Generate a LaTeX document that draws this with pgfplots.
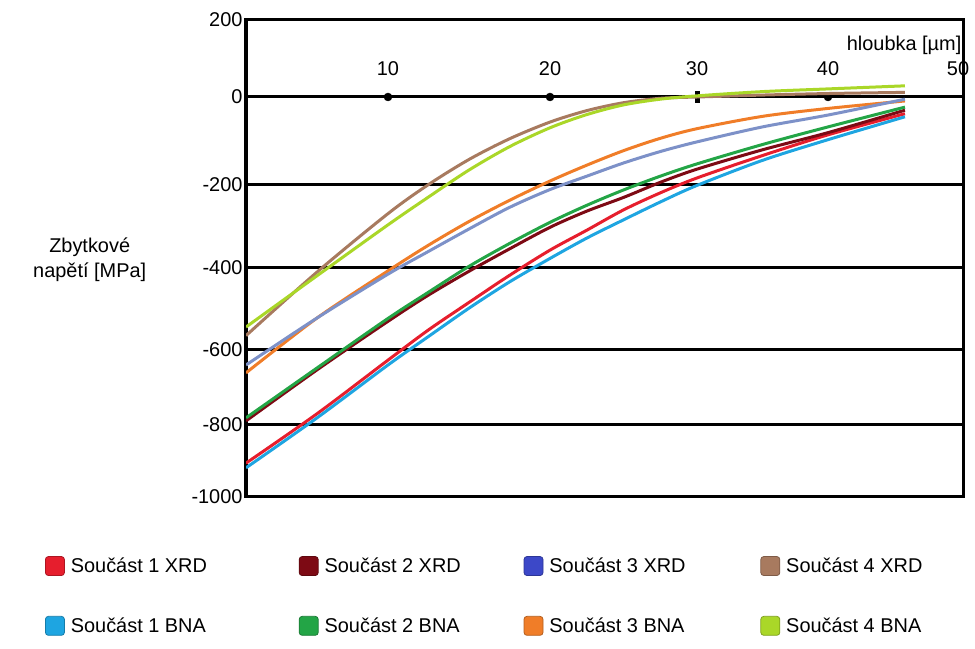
\documentclass[border=0pt]{standalone}
\usepackage{pgfplots}
\pgfplotsset{compat=1.18}
\usepackage{fontspec}
\setmainfont{Liberation Sans}
\definecolor{cAx}{RGB}{230,30,45}
\definecolor{cBx}{RGB}{125,10,20}
\definecolor{cCxL}{RGB}{60,72,200}
\definecolor{cCx}{RGB}{125,145,200}
\definecolor{cDx}{RGB}{168,122,95}
\definecolor{cAb}{RGB}{30,165,225}
\definecolor{cBb}{RGB}{35,165,70}
\definecolor{cCb}{RGB}{240,125,40}
\definecolor{cDb}{RGB}{170,215,40}
\begin{document}
\begin{tikzpicture}[font=\fontsize{20}{25}\selectfont]
\useasboundingbox (0,0) rectangle (975bp,649bp);
\begin{axis}[
  at={(246bp,152bp)}, anchor=south west,
  scale only axis, width=717bp, height=477bp,
  xmin=0, xmax=50, ymin=-1000, ymax=200,
  x coord trafo/.code={\pgfmathparse{(#1<=10) ? (#1*14.2) : ((#1<=20) ? (142+(#1-10)*16.2) : ((#1<=30) ? (304+(#1-20)*14.7) : ((#1<=40) ? (451+(#1-30)*13.1) : (582+(#1-40)*13.5))))}},
  y coord trafo/.code={\pgfmathparse{(#1>=0) ? (400+#1*0.385) : ((#1>=-200) ? (400+#1*0.44) : ((#1>=-400) ? (312+(#1+200)*0.415) : ((#1>=-600) ? (229+(#1+400)*0.41) : ((#1>=-800) ? (147+(#1+600)*0.375) : (72+(#1+800)*0.36)))))}},
  xtick=\empty,
  ytick={-1000,-800,-600,-400,-200,0,200},
  yticklabels={-1000,-800,-600,-400,-200,0,200},
  major tick length=0pt,
  ymajorgrids, grid style={black, line width=3bp},
  axis line style={black, line width=3bp},
  tick label style={font=\fontsize{20}{24}\selectfont},
  clip mode=individual,
  legend columns=4,
  legend cell align=left,
  legend image code/.code={\filldraw[rounded corners=3bp] (0bp,-9.5bp) rectangle (19bp,9.5bp);},
  legend style={at={(axis description cs:-0.2803,-0.124)}, anchor=north west,
    draw=none, fill=none, inner sep=0pt, outer sep=0pt,
    row sep=40bp, column sep=0pt,
    nodes={inner sep=1bp},
    /tikz/every odd column/.append style={column sep=5bp},
    font=\fontsize{20}{24}\selectfont},
]
% tick markers on the zero line
\addplot[only marks, mark=*, mark size=4bp, black, forget plot] coordinates {(10,0) (20,0) (40,0)};
\addplot[only marks, mark=|, mark size=6bp, black, mark options={line width=5bp}, forget plot] coordinates {(30,0)};
% curves
\addplot[cAx, line width=3bp, smooth, forget plot] coordinates {(0,-906) (5,-770) (10,-627) (12.5,-551) (15,-484) (17.5,-418) (20,-357) (22.5,-309) (25,-260) (27.5,-219) (30,-184) (35,-133) (40,-86) (45.7,-38)};
\addplot[cAb, line width=3bp, smooth, forget plot] coordinates {(0,-919) (5,-781) (10,-640) (12.5,-567) (15,-498) (17.5,-434) (20,-377) (22.5,-328) (25,-284) (27.5,-241) (30,-201) (35,-144) (40,-97) (45.7,-45)};
\addplot[cBx, line width=3bp, smooth, forget plot] coordinates {(0,-789) (5,-653) (10,-530) (12.5,-466) (15,-408) (17.5,-354) (20,-302) (22.5,-263) (25,-230) (27.5,-194) (30,-164) (35,-120) (40,-81) (45.7,-30)};
\addplot[cBb, line width=3bp, smooth, forget plot] coordinates {(0,-781) (5,-648) (10,-523) (12.5,-459) (15,-396) (17.5,-341) (20,-290) (22.5,-249) (25,-212) (27.5,-180) (30,-152) (35,-108) (40,-68) (45.7,-23)};
\addplot[cCb, line width=3bp, smooth, forget plot] coordinates {(0,-661) (5,-522) (10,-407) (12.5,-345) (15,-288) (17.5,-237) (20,-191) (22.5,-155) (25,-122) (27.5,-94) (30,-72) (35,-44) (40,-26) (45.7,-9)};
\addplot[cCx, line width=3bp, smooth, forget plot] coordinates {(0,-640) (5,-522) (10,-415) (12.5,-360) (15,-306) (17.5,-254) (20,-211) (22.5,-180) (25,-150) (27.5,-124) (30,-102) (35,-68) (40,-41) (45.7,-5)};
\addplot[cDx, line width=3bp, smooth, forget plot] coordinates {(0,-565) (5,-410) (10,-269) (12.5,-199) (15,-142) (17.5,-95) (20,-57) (22.5,-31) (25,-13) (27.5,-3) (30,0) (35,5) (40,9) (45.7,12)};
\addplot[cDb, line width=3bp, smooth, forget plot] coordinates {(0,-544) (5,-419) (10,-296) (12.5,-229) (15,-166) (17.5,-113) (20,-70) (22.5,-40) (25,-18) (27.5,-5) (30,3) (35,14) (40,21) (45.7,29)};
% legend
\addlegendimage{fill=cAx, draw=cAx!75!black, line width=0.8bp}
\addlegendentry{\makebox[227bp][l]{Součást 1 XRD}}
\addlegendimage{fill=cBx, draw=cBx!75!black, line width=0.8bp}
\addlegendentry{\makebox[198bp][l]{Součást 2 XRD}}
\addlegendimage{fill=cCxL, draw=cCxL!75!black, line width=0.8bp}
\addlegendentry{\makebox[210bp][l]{Součást 3 XRD}}
\addlegendimage{fill=cDx, draw=cDx!75!black, line width=0.8bp}
\addlegendentry{Součást 4 XRD}
\addlegendimage{fill=cAb, draw=cAb!75!black, line width=0.8bp}
\addlegendentry{Součást 1 BNA}
\addlegendimage{fill=cBb, draw=cBb!75!black, line width=0.8bp}
\addlegendentry{Součást 2 BNA}
\addlegendimage{fill=cCb, draw=cCb!75!black, line width=0.8bp}
\addlegendentry{Součást 3 BNA}
\addlegendimage{fill=cDb, draw=cDb!75!black, line width=0.8bp}
\addlegendentry{Součást 4 BNA}
% x labels above the zero line
\node[anchor=base, yshift=21bp] at (axis cs:10,0) {10};
\node[anchor=base, yshift=21bp] at (axis cs:20,0) {20};
\node[anchor=base, yshift=21bp] at (axis cs:30,0) {30};
\node[anchor=base, yshift=21bp] at (axis cs:40,0) {40};
\node[anchor=base, yshift=21bp, xshift=-5bp] at (axis cs:50,0) {50};
\node[anchor=base east, inner sep=0pt] at (axis description cs:0.998,0.935) {hloubka [µm]};
\node[align=center] at (axis description cs:-0.218,0.497) {Zbytkové\\napětí [MPa]};
\end{axis}
\end{tikzpicture}
\end{document}
